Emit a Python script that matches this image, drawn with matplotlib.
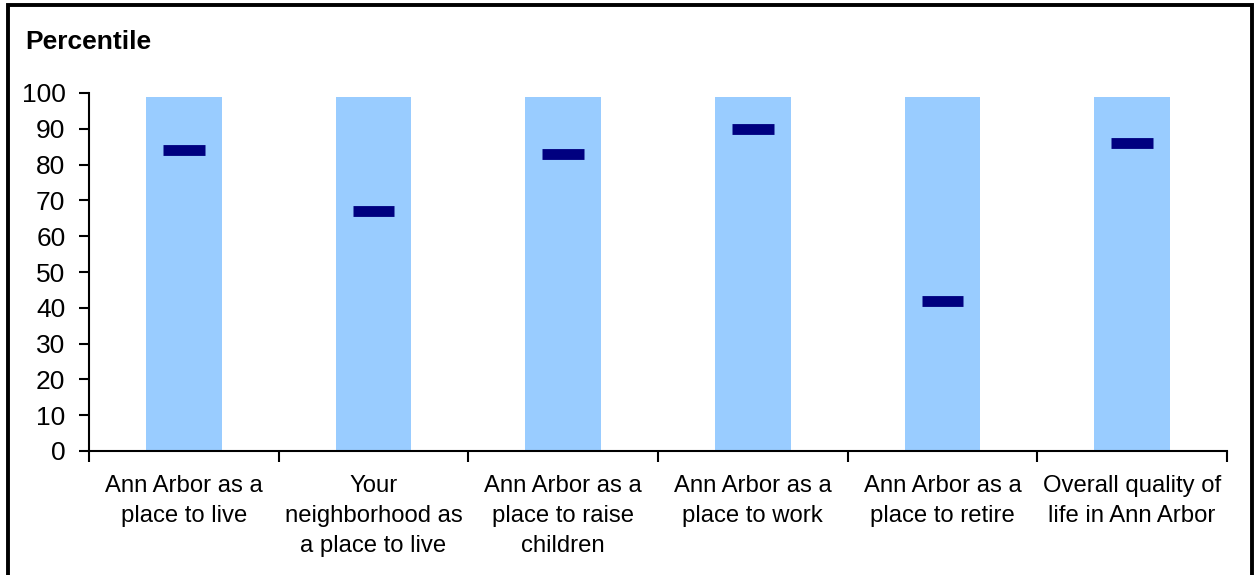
import matplotlib
matplotlib.use("Agg")
import matplotlib.pyplot as plt
from matplotlib.patches import Rectangle

# Категории и значения
categories = [
    "Ann Arbor as a\nplace to live",
    "Your\nneighborhood as\na place to live",
    "Ann Arbor as a\nplace to raise\nchildren",
    "Ann Arbor as a\nplace to work",
    "Ann Arbor as a\nplace to retire",
    "Overall quality of\nlife in Ann Arbor",
]
range_top = [99, 99, 99, 99, 99, 99]
percentile = [84, 67, 83, 90, 42, 86]
y_ticks = [0, 10, 20, 30, 40, 50, 60, 70, 80, 90, 100]

plt.rcParams["font.family"] = ["Liberation Sans", "DejaVu Sans"]

fig = plt.figure(figsize=(12.56, 5.75), dpi=100)
ax = fig.add_axes([89 / 1256, 1 - 451 / 575, (1227 - 89) / 1256, (451 - 93) / 575])

x_pos = list(range(len(categories)))

# Голубые столбцы (диапазон)
ax.bar(x_pos, range_top, width=0.4, color="#99CCFF", zorder=1)

# Тёмно-синие отметки процентилей
for x, v in zip(x_pos, percentile):
    ax.plot([x - 0.11, x + 0.11], [v, v], color="#000080", linewidth=7.8,
            solid_capstyle="butt", solid_joinstyle="round", zorder=3)

ax.set_xlim(-0.5, len(categories) - 0.5)
ax.set_ylim(0, 100)
ax.set_yticks(y_ticks)
ax.tick_params(axis="y", labelsize=19, length=7, width=1.5, direction="out", pad=10)

# Деления оси X на границах категорий, подписи по центру
ax.set_xticks([i - 0.5 for i in range(len(categories) + 1)])
ax.set_xticklabels([])
ax.set_xticks(x_pos, minor=True)
ax.set_xticklabels(categories, minor=True, fontsize=17.2, linespacing=1.47, va="top")
ax.tick_params(axis="x", which="major", length=8, width=1.5, direction="out")
ax.tick_params(axis="x", which="minor", length=0, pad=17.5)

for s in ["top", "right"]:
    ax.spines[s].set_visible(False)
ax.spines["left"].set_linewidth(1.5)
ax.spines["bottom"].set_linewidth(1.5)

fig.text(25 / 1256, 1 - 42 / 575, "Percentile", fontsize=19, fontweight="bold",
         va="center", ha="left")

# Рамка вокруг рисунка (низ обрезан)
fig.patches.append(Rectangle((8 / 1256, -0.05), (1252 - 8) / 1256, 1.05 - 5 / 575,
                             transform=fig.transFigure, fill=False,
                             edgecolor="black", linewidth=2.8))

fig.savefig("out.png", dpi=100)
